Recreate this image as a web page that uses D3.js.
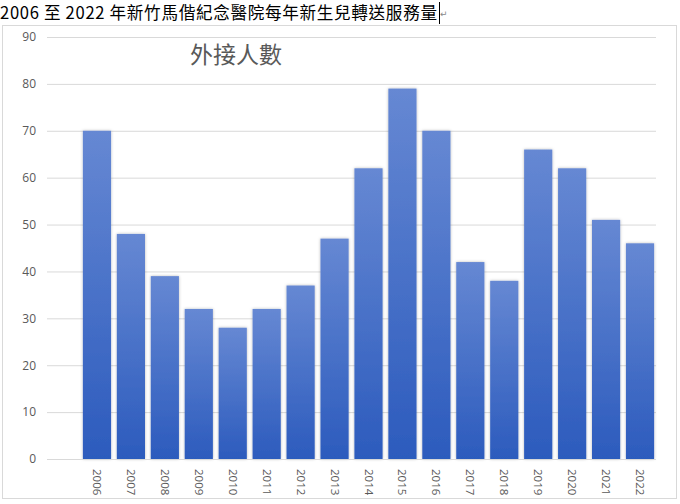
<!DOCTYPE html>
<html><head><meta charset="utf-8">
<script src="https://cdn.jsdelivr.net/npm/d3@7"></script>
<style>body{margin:0;background:#fff}svg{display:block}</style>
</head><body>
<svg id="c" width="680" height="504"></svg>
<script>
const years = ["2006","2007","2008","2009","2010","2011","2012","2013","2014","2015","2016","2017","2018","2019","2020","2021","2022"];
const values = [70,48,39,32,28,32,37,47,62,79,70,42,38,66,62,51,46];
const yTicks = [0,10,20,30,40,50,60,70,80,90];
const docTitle = "2006 至 2022 年新竹馬偕紀念醫院每年新生兒轉送服務量";
const chartTitle = "外接人數";

const svg = d3.select("#c");

// document heading
svg.append("text").attr("x", 0).attr("y", 19)
  .attr("font-family", "'Noto Sans CJK TC','Open Sans',sans-serif")
  .attr("font-size", 16.6).attr("fill", "#000")
  .attr("textLength", 437).attr("lengthAdjust", "spacing").text(docTitle);
const tw = 437;
svg.append("line").attr("x1", tw + 2.5).attr("x2", tw + 2.5).attr("y1", 2).attr("y2", 24)
  .attr("stroke", "#000").attr("stroke-width", 1);
svg.append("text").attr("x", tw + 3).attr("y", 17).attr("font-size", 9)
  .attr("fill", "#888").attr("font-family", "DejaVu Sans").text("↵");

// chart frame
svg.append("rect").attr("x", 2.5).attr("y", 25.5).attr("width", 674).attr("height", 473)
  .attr("fill", "#fff").attr("stroke", "#d9d9d9");

const y = d3.scaleLinear().domain([0, 90]).range([459, 37]);
const x = d3.scaleBand().domain(years).range([80, 657]).paddingInner(0.17).paddingOuter(0.085);

const defs = svg.append("defs");
const g = defs.append("linearGradient").attr("id", "bg").attr("x1", 0).attr("y1", 0).attr("x2", 0).attr("y2", 1);
g.append("stop").attr("offset", "0%").attr("stop-color", "#6688d3");
g.append("stop").attr("offset", "100%").attr("stop-color", "#2c5bbd");
const f = defs.append("filter").attr("id", "sh").attr("x", "-20%").attr("y", "-5%").attr("width", "140%").attr("height", "110%");
f.append("feDropShadow").attr("dx", 0).attr("dy", 0).attr("stdDeviation", 1.6).attr("flood-color", "#000").attr("flood-opacity", 0.28);

// gridlines
const yAxis = d3.axisLeft(y).tickValues(yTicks).tickSize(-(656 - 47)).tickPadding(11);
const ga = svg.append("g").attr("transform", "translate(47,0)").call(yAxis);
ga.select(".domain").remove();
ga.selectAll(".tick line").attr("stroke", "#d9d9d9").attr("stroke-width", 1);
ga.selectAll(".tick text").attr("font-family", "'Open Sans','Noto Sans',sans-serif")
  .attr("font-size", 12).attr("fill", "#595959");

// chart title
svg.append("text").attr("x", 236).attr("y", 63).attr("text-anchor", "middle")
  .attr("font-family", "'Noto Sans CJK TC',sans-serif").attr("font-size", 23)
  .attr("font-weight", 400).attr("fill", "#595959").text(chartTitle);

// bars
svg.append("g").selectAll("rect").data(values).join("rect")
  .attr("x", (d, i) => x(years[i]))
  .attr("y", d => y(d))
  .attr("width", x.bandwidth())
  .attr("height", d => y(0) - y(d))
  .attr("fill", "url(#bg)")
  .attr("filter", "url(#sh)");

// x axis
const xAxis = d3.axisBottom(x).tickSize(0).tickPadding(0);
const gx = svg.append("g").attr("transform", "translate(0,459)").call(xAxis);
gx.select(".domain").attr("stroke", "#d9d9d9").attr("d", "M47,0.5H656");
gx.selectAll(".tick text")
  .attr("font-family", "'Open Sans','Noto Sans',sans-serif")
  .attr("font-size", 11.5).attr("fill", "#595959")
  .attr("text-anchor", "start").attr("dy", null)
  .attr("transform", "translate(-4,10) rotate(90)")
  .attr("y", 0).attr("x", 0);
</script>
</body></html>
